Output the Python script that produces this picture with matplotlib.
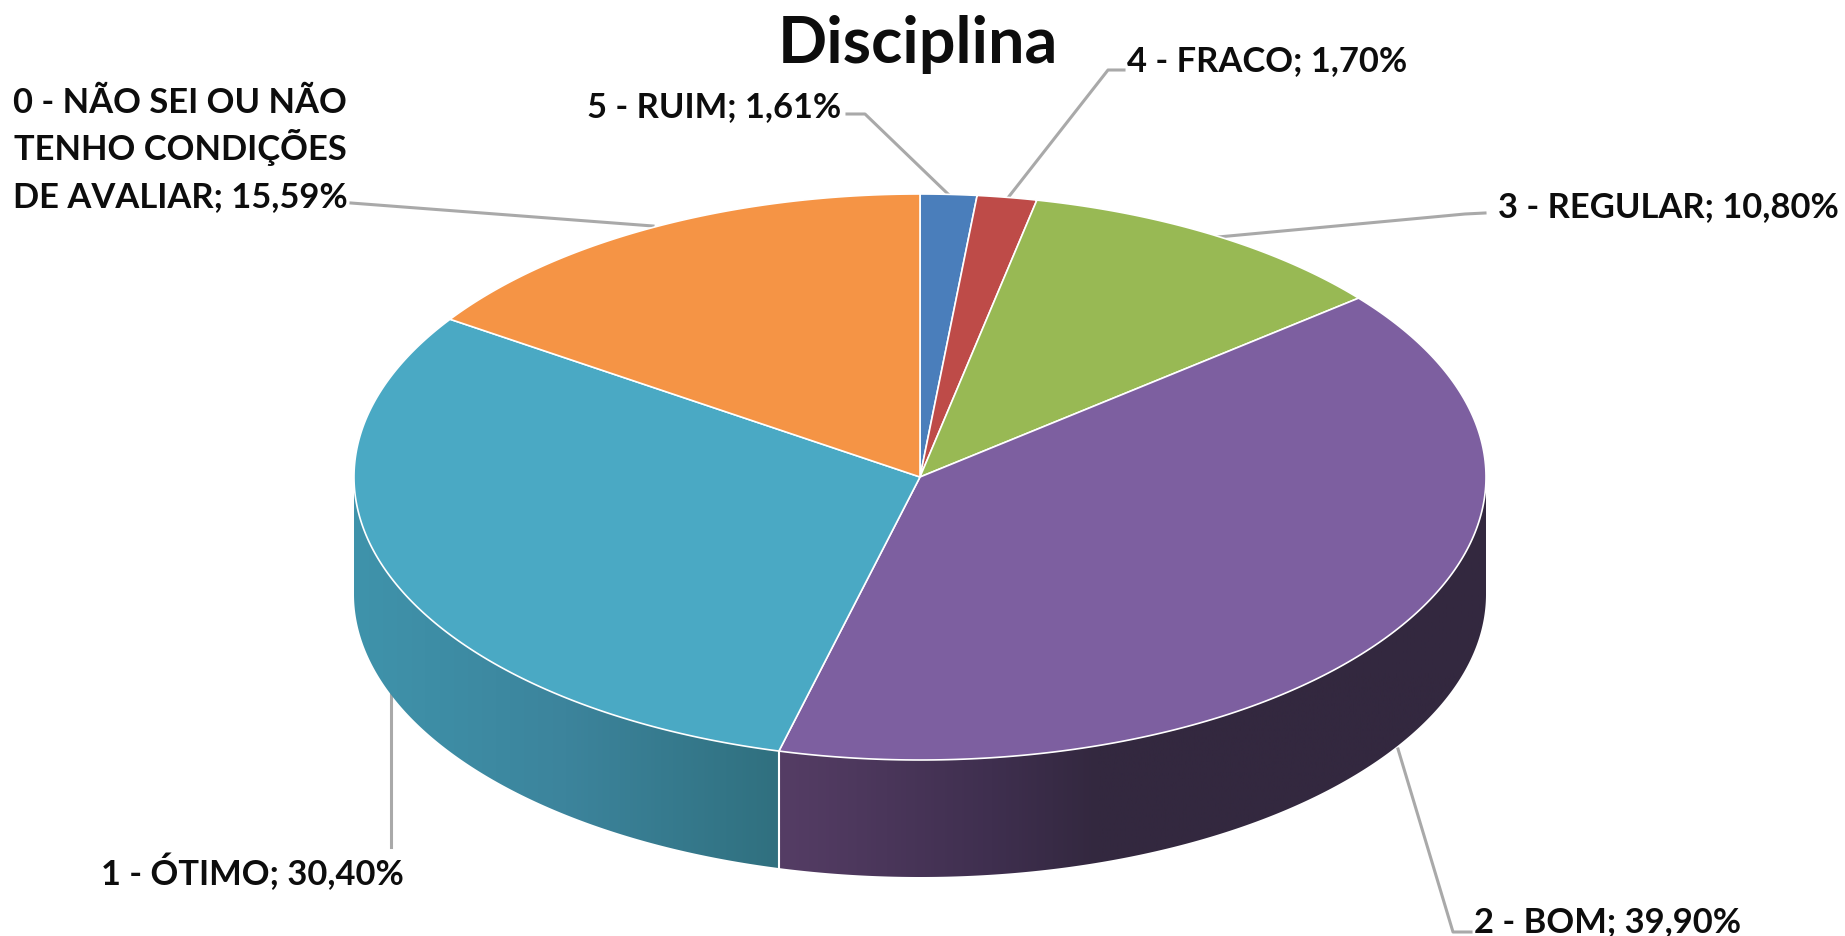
import matplotlib
matplotlib.use("Agg")
import matplotlib.pyplot as plt
import numpy as np
from matplotlib.colors import LinearSegmentedColormap
from matplotlib.patches import Polygon

# clockwise from 12 o'clock
categories = ["5 - RUIM", "4 - FRACO", "3 - REGULAR", "2 - BOM", "1 - ÓTIMO",
              "0 - NÃO SEI OU NÃO\nTENHO CONDIÇÕES\nDE AVALIAR"]
values = [1.61, 1.70, 10.80, 39.90, 30.40, 15.59]
value_labels = ["1,61%", "1,70%", "10,80%", "39,90%", "30,40%", "15,59%"]
top_colors = ["#4a7ebb", "#be4b48", "#98b954", "#7d5fa0", "#4aa9c4", "#f59445"]

# side shading, colour by horizontal position across each visible side
side_stops = {
    3: ([0.0, 0.3, 0.45, 1.0], ["#553d65", "#3f2f4f", "#33283f", "#33283f"]),
    4: ([0.0, 0.5, 1.0], ["#3f93ab", "#3c849c", "#30707f"]),
}

CX, CY = 920, 478
RX, RY = 566, 283
DEPTH = 117


def ellipse_point(t, dy=0):
    return CX + RX * np.sin(t), CY - RY * np.cos(t) + dy


fig = plt.figure(figsize=(18.45, 9.37), dpi=100)
ax = fig.add_axes([0, 0, 1, 1])

edges = 2 * np.pi * np.concatenate([[0], np.cumsum(values)]) / sum(values)

# leader lines
leaders = [
    [(847, 115), (865, 115), (948, 195)],
    [(1124, 71), (1108, 71), (1007, 200)],
    [(1485, 214), (1465, 215), (1218, 238)],
    [(1398, 750), (1453, 933), (1471, 933)],
    [(391, 694), (391, 848)],
    [(351, 204), (653, 227)],
]
for pts in leaders:
    xs, ys = zip(*pts)
    ax.plot(xs, ys, color="#a9a9a9", lw=2.2, solid_joinstyle="round", zorder=1)

# sides, only the arc facing the viewer
for i in side_stops:
    stops, cols = side_stops[i]
    a0 = max(edges[i], np.pi / 2)
    a1 = min(edges[i + 1], 3 * np.pi / 2)
    ts = np.linspace(a0, a1, 300)
    x, y = ellipse_point(ts)
    outline = np.column_stack([np.concatenate([x, x[::-1]]),
                               np.concatenate([y, y[::-1] + DEPTH])])
    cmap = LinearSegmentedColormap.from_list(f"side{i}", list(zip(stops, cols)))
    grad = np.linspace(0, 1, 512).reshape(1, -1)
    im = ax.imshow(grad, cmap=cmap, aspect="auto", zorder=2,
                   extent=[x.min(), x.max(), y.max() + DEPTH, y.min()])
    patch = Polygon(outline, closed=True, transform=ax.transData, fc="none", ec="none")
    ax.add_patch(patch)
    im.set_clip_path(patch)

# white seam between the two visible sides
seam_x, seam_y = ellipse_point(edges[4])
ax.plot([seam_x, seam_x], [seam_y, seam_y + DEPTH], color="white", lw=1.5, zorder=3)

# top face
for i, col in enumerate(top_colors):
    ts = np.linspace(edges[i], edges[i + 1], 200)
    x, y = ellipse_point(ts)
    xs = np.concatenate([[CX], x])
    ys = np.concatenate([[CY], y])
    ax.fill(xs, ys, facecolor=col, edgecolor="white", lw=1.2, zorder=4)

ax.set_xlim(0, 1845)
ax.set_ylim(937, 0)
ax.axis("off")

font = dict(family="Lato", fontweight="bold", color="#0d0d0d", zorder=5)
ax.text(918, 44, "Disciplina", fontsize=46.5, ha="center", va="center", **font)

# baseline anchors
label_pos = [
    (841, 117, "right"),
    (1127, 71, "left"),
    (1498, 217, "left"),
    (1474, 932, "left"),
    (101, 885, "left"),
    (180, 113, "center"),
]
LINE_PITCH = 47
for cat, val, (lx, ly, ha) in zip(categories, value_labels, label_pos):
    lines = f"{cat}; {val}".split("\n")
    for n, line in enumerate(lines):
        ax.text(lx, ly + n * LINE_PITCH, line, fontsize=24.8, ha=ha, va="baseline", **font)

fig.savefig("out.png", dpi=100, facecolor="white")
